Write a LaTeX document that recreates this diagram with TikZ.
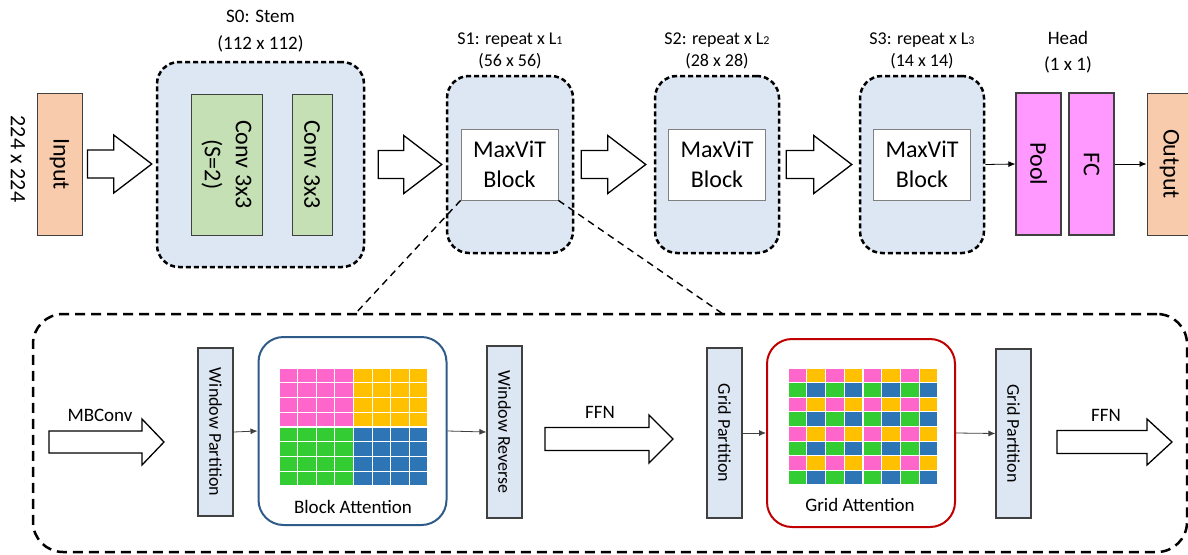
\documentclass[tikz,border=0pt]{standalone}
\usepackage{fontspec}
\setmainfont{Carlito}
\usepackage{graphicx}
\usepackage{xcolor}
\usepackage{tikz}
\usetikzlibrary{arrows.meta,calc}

\definecolor{peach}{HTML}{F8CBAD}
\definecolor{stageblue}{HTML}{DDE7F3}
\definecolor{convgreen}{HTML}{C5E0B4}
\definecolor{headpink}{HTML}{FF99FF}
\definecolor{edgegray}{HTML}{404040}
\definecolor{gridc0}{HTML}{FF66CC}
\definecolor{gridc1}{HTML}{FFC000}
\definecolor{gridc2}{HTML}{33CC33}
\definecolor{gridc3}{HTML}{2E75B6}
\definecolor{framebl}{HTML}{2E5B88}
\definecolor{framered}{HTML}{C00000}

% start, end, half shaft, half head, head length
\newcommand{\fatarrow}[5]{%
  \draw[fatarr] let \p1=#1, \p2=#2 in
    (\x1,\y1+#3) -- (\x2-#5,\y1+#3) -- (\x2-#5,\y1+#4) -- (\x2,\y1)
    -- (\x2-#5,\y1-#4) -- (\x2-#5,\y1-#3) -- (\x1,\y1-#3) -- cycle;}
\newcommand{\lsub}[1]{{\fontsize{12}{12}\selectfont #1}}

\begin{document}
\begin{tikzpicture}[x=1pt,y=-1pt]
\tikzstyle{every node}+=[inner sep=0pt]
\tikzstyle{bigfont}=[font=\fontsize{24}{30}\selectfont]
\tikzstyle{midfont}=[font=\fontsize{19}{26}\selectfont]
\tikzstyle{ioblock}=[draw=edgegray, line width=1pt, fill=peach, minimum width=45pt, minimum height=142pt, bigfont]
\tikzstyle{convblock}=[draw=edgegray, line width=1pt, fill=convgreen, minimum height=141pt, font=\fontsize{24}{31}\selectfont]
\tikzstyle{headblock}=[draw=edgegray, line width=1.2pt, fill=headpink, minimum width=45pt, minimum height=142pt, bigfont]
\tikzstyle{stagebox}=[draw=black, line width=2.5pt, dash pattern=on 5pt off 3pt, fill=stageblue, rounded corners=22pt, minimum height=177pt]
\tikzstyle{maxvit}=[draw=gray, line width=0.8pt, fill=white, minimum width=97pt, minimum height=71pt, align=center, bigfont]
\tikzstyle{stagetitle}=[align=center, font=\fontsize{18}{22}\selectfont]
\tikzstyle{partbox}=[draw=edgegray, line width=1.2pt, fill=stageblue, minimum width=35pt, font=\fontsize{18}{22}\selectfont]
\tikzstyle{attframe}=[line width=2pt, rounded corners=25pt, fill=white, minimum width=188pt, minimum height=188pt]
\tikzstyle{fatarr}=[draw=black, line width=1.3pt, fill=white, line join=miter]
\tikzstyle{thinarrow}=[draw=edgegray, line width=0.8pt, -{Latex[length=7pt,width=6pt]}]
\tikzstyle{zoomline}=[draw=black, line width=1.4pt, dash pattern=on 7pt off 5pt]
\useasboundingbox (0,0) rectangle (1188,554);

\node[bigfont, font=\fontsize{22}{26}\selectfont] (insize) at (18,159) {\rotatebox{-90}{224 x 224}};
\node[ioblock] (input) at (59.5,164) {\rotatebox{-90}{Input}};

\node[stagebox, minimum width=207pt, minimum height=205pt] (stem) at (260.5,164.5) {};
\node[convblock, minimum width=71pt] (conv1) at (226.5,164.5) {\rotatebox{-90}{\begin{tabular}{@{}c@{}}Conv 3x3\\(S=2)\end{tabular}}};
\node[convblock, minimum width=40pt] (conv2) at (312,164.5) {\rotatebox{-90}{Conv 3x3}};
\node[stagetitle, font=\fontsize{19}{27}\selectfont] (stemlbl) at (260.5,31.5) {S0: Stem\\(112 x 112)};

\node[stagebox, minimum width=126pt] (s1) at (510,164.5) {};
\node[maxvit] (mb1) at (509.5,164.5) {MaxViT\\Block};
\node[stagetitle] (s1lbl) at (510,51) {S1: repeat x L\lsub{1}\\(56 x 56)};

\node[stagebox, minimum width=124pt] (s2) at (717,164.5) {};
\node[maxvit] (mb2) at (717,164.5) {MaxViT\\Block};
\node[stagetitle] (s2lbl) at (717,51) {S2: repeat x L\lsub{2}\\(28 x 28)};

\node[stagebox, minimum width=124pt] (s3) at (922,164.5) {};
\node[maxvit] (mb3) at (922,164.5) {MaxViT\\Block};
\node[stagetitle] (s3lbl) at (922,51) {S3: repeat x L\lsub{3}\\(14 x 14)};

\node[headblock] (pool) at (1038.5,164) {\rotatebox{-90}{Pool}};
\node[headblock] (fc) at (1091.5,164) {\rotatebox{-90}{FC}};
\node[ioblock] (output) at (1169.5,164) {\rotatebox{-90}{Output}};
\node[stagetitle, font=\fontsize{19}{26}\selectfont] (headlbl) at (1068,52) {Head\\(1 x 1)};

\fatarrow{([xshift=5pt]input.east)}{([xshift=-4pt]stem.west)}{14}{29}{38}
\fatarrow{([xshift=13pt]stem.east)}{([xshift=-4pt]s1.west)}{14}{29}{38}
\fatarrow{([xshift=7pt]s1.east)}{([xshift=-8pt]s2.west)}{14}{29}{38}
\fatarrow{([xshift=6pt]s2.east)}{([xshift=-7pt]s3.west)}{14}{29}{38}
\draw[thinarrow, draw=black] (s3.east) -- (pool.west);
\draw[thinarrow, draw=black] (fc.east) -- (output.west);

\node[draw=black, line width=2.5pt, dash pattern=on 10pt off 6pt, rounded corners=30pt, minimum width=1154pt, minimum height=238pt] (blockx) at (610,433) {};
\coordinate (zl) at (355,314);
\coordinate (zr) at (723,314);
\draw[zoomline] (mb1.south west) -- (zl);
\draw[zoomline] (mb1.south east) -- (zr);

\coordinate (mbs) at (49,442);
\coordinate (mbe) at (164,442);
\fatarrow{(mbs)}{(mbe)}{11}{23}{22}
\node[midfont] (mblbl) at (100,415) {MBConv};

\node[partbox, minimum height=168pt] (wpart) at (215.5,432) {\rotatebox{-90}{Window Partition}};
\node[attframe, draw=framebl] (battn) at (352.5,431) {};
\foreach \r in {0,...,7} {
  \foreach \c in {0,...,7} {
    \pgfmathtruncatemacro{\k}{(\r>3)*2+(\c>3)}
    \filldraw[fill=gridc\k, draw=white, line width=1.2pt] (279+\c*18.625,368+\r*14.75) rectangle ++(18.625,14.75);
  }
}
\node[midfont] (battnlbl) at (353,507) {Block Attention};
\node[partbox, minimum height=172pt] (wrev) at (504.5,432) {\rotatebox{-90}{Window Reverse}};
\draw[thinarrow] (wpart.east) -- (battn.west);
\draw[thinarrow] (battn.east) -- (wrev.west);

\coordinate (f1s) at (545,439);
\coordinate (f1e) at (673,439);
\fatarrow{(f1s)}{(f1e)}{11.5}{24}{24}
\node[midfont] (ffn1lbl) at (600,412) {FFN};

\node[partbox, minimum height=170pt] (gpart1) at (724.5,433) {\rotatebox{-90}{Grid Partition}};
\node[attframe, draw=framered] (gattn) at (861,433) {};
\foreach \r in {0,...,7} {
  \foreach \c in {0,...,7} {
    \pgfmathtruncatemacro{\k}{mod(\r,2)*2+mod(\c,2)}
    \filldraw[fill=gridc\k, draw=white, line width=1.2pt] (788+\c*18.75,368+\r*14.625) rectangle ++(18.75,14.625);
  }
}
\node[midfont] (gattnlbl) at (860,505) {Grid Attention};
\node[partbox, minimum height=169pt] (gpart2) at (1013.5,433.5) {\rotatebox{-90}{Grid Partition}};
\draw[thinarrow] (gpart1.east) -- (gattn.west);
\draw[thinarrow] (gattn.east) -- (gpart2.west);

\coordinate (f2s) at (1057,442);
\coordinate (f2e) at (1172,442);
\fatarrow{(f2s)}{(f2e)}{11.5}{23}{25}
\node[midfont] (ffn2lbl) at (1106,415) {FFN};
\end{tikzpicture}
\end{document}
